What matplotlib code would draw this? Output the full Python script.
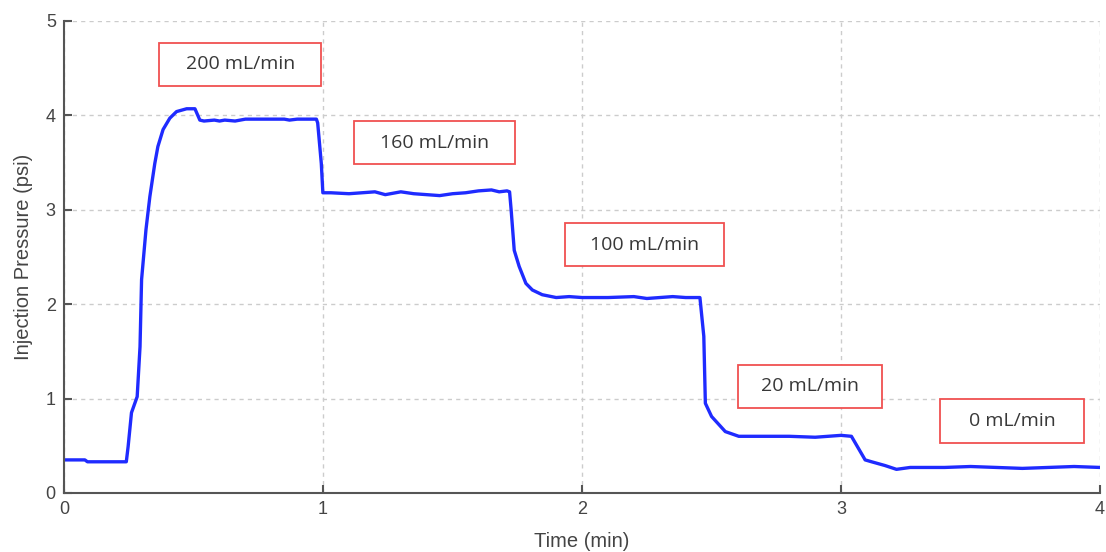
import matplotlib
matplotlib.use("Agg")
from matplotlib import pyplot as plt

# pressure trace
time_min = [0.0, 0.08, 0.09, 0.24, 0.247, 0.26, 0.282, 0.293, 0.299, 0.316,
            0.331, 0.35, 0.362, 0.382, 0.408, 0.434, 0.473, 0.505, 0.524, 0.54,
            0.58, 0.6, 0.62, 0.66, 0.7, 0.8, 0.85, 0.87, 0.9, 0.95,
            0.974, 0.979, 0.993, 0.999, 1.03, 1.1, 1.2, 1.24, 1.3, 1.35,
            1.4, 1.45, 1.5, 1.55, 1.6, 1.65, 1.68, 1.71, 1.72, 1.726,
            1.738, 1.757, 1.783, 1.808, 1.846, 1.9, 1.95, 2.0, 2.1, 2.2,
            2.25, 2.35, 2.4, 2.455, 2.47, 2.476, 2.5, 2.553, 2.605, 2.7,
            2.8, 2.9, 2.95, 3.0, 3.04, 3.093, 3.118, 3.17, 3.214, 3.267,
            3.4, 3.5, 3.6, 3.7, 3.8, 3.9, 4.0]
pressure = [0.35, 0.35, 0.33, 0.33, 0.49, 0.85, 1.02, 1.55, 2.26, 2.79,
            3.14, 3.49, 3.67, 3.85, 3.97, 4.04, 4.07, 4.07, 3.95, 3.94,
            3.95, 3.94, 3.95, 3.94, 3.96, 3.96, 3.96, 3.95, 3.96, 3.96,
            3.96, 3.92, 3.49, 3.18, 3.18, 3.17, 3.19, 3.16, 3.19, 3.17,
            3.16, 3.15, 3.17, 3.18, 3.20, 3.21, 3.19, 3.20, 3.19, 3.00,
            2.57, 2.40, 2.22, 2.15, 2.10, 2.07, 2.08, 2.07, 2.07, 2.08,
            2.06, 2.08, 2.07, 2.07, 1.66, 0.95, 0.81, 0.65, 0.60, 0.60,
            0.60, 0.59, 0.60, 0.61, 0.60, 0.35, 0.33, 0.29, 0.25, 0.27,
            0.27, 0.28, 0.27, 0.26, 0.27, 0.28, 0.27]

# flow-rate labels and where they sit (data coords)
labels = ["200 mL/min", "160 mL/min", "100 mL/min", "20 mL/min", "0 mL/min"]
label_t = [0.68, 1.43, 2.24, 2.88, 3.66]
label_p = [4.54, 3.71, 2.63, 1.13, 0.76]
label_w = [0.625, 0.62, 0.615, 0.555, 0.555]
box_h = 0.46

fig = plt.figure(figsize=(11.06, 5.52), dpi=100)
ax = fig.add_axes([0.058, 0.107, 0.9366, 0.855])
ax.plot(time_min, pressure, color="#1f2bff", linewidth=2.4)

for txt, t, p, w in zip(labels, label_t, label_p, label_w):
    ax.add_patch(plt.Rectangle((t - w / 2, p - box_h / 2), w, box_h,
                               facecolor="white", edgecolor="#f05050",
                               linewidth=1.3, zorder=3))
    ax.text(t, p, txt, ha="center", va="center", fontsize=14,
            color="#383838", family="Open Sans", zorder=4)

ax.set_xlim(0, 4)
ax.set_ylim(0, 5)
ax.set_xticks([0, 1, 2, 3, 4])
ax.set_yticks([0, 1, 2, 3, 4, 5])
ax.grid(True, linestyle=(0, (3, 3)), color="#cccccc", linewidth=1)
for side in ["top", "right"]:
    ax.spines[side].set_visible(False)
for side in ["left", "bottom"]:
    ax.spines[side].set_color("#555555")
    ax.spines[side].set_linewidth(1.5)
ax.tick_params(direction="in", length=6, width=1.5, color="#555555",
               labelsize=13, labelcolor="#444444", pad=6)
for lab in ax.get_xticklabels() + ax.get_yticklabels():
    lab.set_family("Liberation Sans")
ax.set_xlabel("Time (min)", fontsize=14.5, color="#444444",
              family="Liberation Sans", labelpad=10)
ax.set_ylabel("Injection Pressure (psi)", fontsize=14.5, color="#444444",
              family="Liberation Sans", labelpad=9)

fig.savefig("out.png", dpi=100)
